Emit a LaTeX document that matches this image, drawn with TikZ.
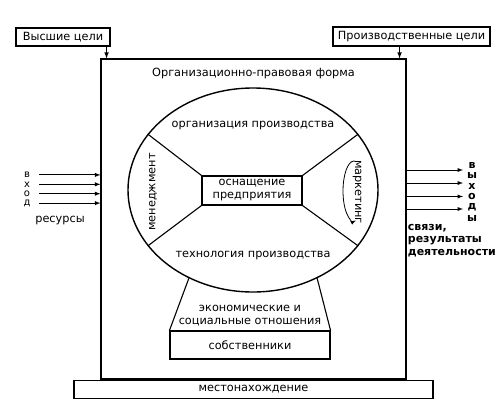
\documentclass[tikz,border=0pt]{standalone}
\usepackage{fontspec}
\setmainfont{DejaVu Sans}
\usetikzlibrary{arrows, positioning, shapes.geometric}

\begin{document}
\begin{tikzpicture} [
						x=1pt, y=-1pt,
						>=latex,
						line width=1.1pt,
						font=\fontsize{11.3}{13}\selectfont,
						box/.style={draw, rectangle, inner sep=0pt, align=center},
						side/.style={font=\fontsize{11}{12.5}\selectfont\bfseries}
					]

\useasboundingbox (0,0) rectangle (502,413);

\node (0) [box, minimum width=94, minimum height=18] at (63,37) {Высшие цели};
\node (1) [box, minimum width=157, minimum height=19] at (411.5,36.5) {Производственные цели};
\node (2) [box, minimum width=305, minimum height=320] at (253.5,219) {};
\node (3) [box, minimum width=359, minimum height=18, below=0pt of 2] {местонахождение};
\node (4) [below=6pt of 2.north] {Организационно-правовая форма};

\node (5) [draw, ellipse, line width=1.4pt, minimum width=250, minimum height=204, inner sep=0pt] at (253,190) {};
\node (6) [box, minimum width=100, minimum height=29] at (252,190.5) {оснащение\\предприятия};
\node (7) at (253,126) {организация производства};
\node (8) at (253,255) {технология производства};
\node (9) [rotate=90] at (153,192) {менеджмент};
\node (10) [rotate=-90] at (357,192) {маркетинг};
\node (11) [box, minimum width=160, minimum height=28] at (250,345) {собственники};
\node (12) [above=1pt of 11, align=center] {экономические и\\социальные отношения};

\draw (6.north west) -- (5.152);
\draw (6.south west) -- (5.208);
\draw (6.north east) -- (5.28);
\draw (6.south east) -- (5.-28);
\draw (11.north west) -- (5.234);
\draw (11.north east) -- (5.306);

\draw[->] ([xshift=-4pt]0.south east) -- ([xshift=-4pt]0.south east |- 2.north);
\draw[->] ([xshift=-7pt]2.north east |- 1.south) -- ([xshift=-7pt]2.north east);
\draw[->, line width=0.8pt] (354,191) ++(280:11 and 30) arc [start angle=280, end angle=80, x radius=11, y radius=30];

\foreach \c [count=\i] in {в,х,о,д} {
	\node (i\i) [font=\fontsize{10}{10}\selectfont] at (27,165.5+9.4*\i) {\c};
	\draw[->, line width=0.9pt] ([xshift=12pt]i\i.center) -- (i\i -| 2.west);
}
\node (13) at (60,221) {ресурсы};

\foreach \c [count=\i] in {в,ы,х,о,д,ы}
	\node (o\i) [side] at (472,154.4+10.6*\i) {\c};
\foreach \y [count=\i] in {170,183,196.5,209} {
	\coordinate (e\i) at (463,\y);
	\draw[->, line width=0.9pt] (e\i -| 2.east) -- (e\i);
}
\node (14) [side, align=left, anchor=north west] at (404,220) {связи,\\результаты\\деятельности};

\end{tikzpicture}
\end{document}
